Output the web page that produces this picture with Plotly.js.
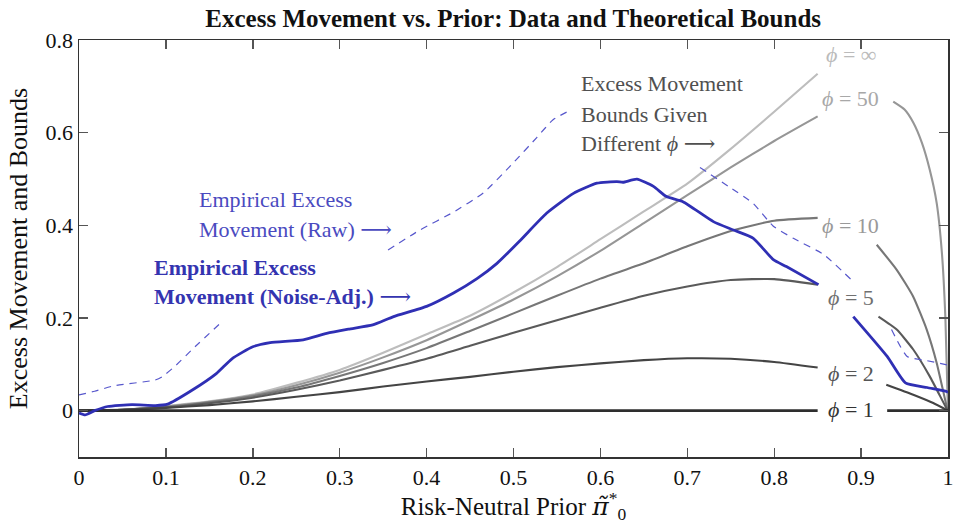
<!DOCTYPE html>
<html>
<head>
<meta charset="utf-8">
<script src="https://cdn.plot.ly/plotly-3.0.1.min.js"></script>
<style>
  html, body { margin: 0; padding: 0; background: #fff; }
  #chart { width: 953px; height: 524px; }
</style>
</head>
<body>
<div id="chart"></div>
<script>
// ---------- data ----------
const xTickVals = [0, 0.1, 0.2, 0.3, 0.4, 0.5, 0.6, 0.7, 0.8, 0.9, 1];
const xTickText = ["0", "0.1", "0.2", "0.3", "0.4", "0.5", "0.6", "0.7", "0.8", "0.9", "1"];
const yTickVals = [0, 0.2, 0.4, 0.6, 0.8];
const yTickText = ["0", "0.2", "0.4", "0.6", "0.8"];

// theoretical bounds, left part (up to the label column)
const boundX = [0, 0.05, 0.1, 0.15, 0.2, 0.25, 0.3, 0.35, 0.4, 0.45, 0.5, 0.55, 0.6, 0.65, 0.7, 0.75, 0.8, 0.85];
const boundInf = [0, 0.002, 0.01, 0.02, 0.035, 0.06, 0.088, 0.125, 0.165, 0.205, 0.255, 0.31, 0.37, 0.43, 0.49, 0.565, 0.645, 0.727];
const bound50  = [0, 0.002, 0.009, 0.019, 0.033, 0.055, 0.082, 0.115, 0.152, 0.195, 0.24, 0.29, 0.345, 0.405, 0.465, 0.525, 0.582, 0.635];
const bound10  = [0, 0.002, 0.008, 0.018, 0.031, 0.05, 0.075, 0.103, 0.135, 0.172, 0.21, 0.248, 0.285, 0.318, 0.355, 0.388, 0.41, 0.416];
const bound5   = [0, 0.002, 0.007, 0.016, 0.028, 0.045, 0.065, 0.088, 0.112, 0.14, 0.168, 0.195, 0.222, 0.248, 0.268, 0.282, 0.284, 0.272];
const bound2   = [0, 0.002, 0.006, 0.012, 0.02, 0.03, 0.04, 0.052, 0.063, 0.073, 0.084, 0.094, 0.102, 0.109, 0.113, 0.112, 0.105, 0.093];
const bound1X  = [0, 0.85, null, 0.93, 1];
const bound1   = [0, 0, null, 0, 0];

// theoretical bounds, right part (after the label column)
const right50X = [0.937, 0.95, 0.96, 0.97, 0.979, 0.987, 0.993, 0.997, 1];
const right50  = [0.667, 0.65, 0.622, 0.578, 0.52, 0.448, 0.34, 0.2, 0];
const right10X = [0.918, 0.941, 0.96, 0.9755, 0.987, 0.9985, 1];
const right10  = [0.358, 0.304, 0.246, 0.175, 0.103, 0.009, 0];
const right5X  = [0.92, 0.941, 0.96, 0.979, 0.998, 1];
const right5   = [0.203, 0.175, 0.132, 0.074, 0.006, 0];
const right2X  = [0.929, 0.96, 0.983, 1];
const right2   = [0.056, 0.0345, 0.0166, 0];

// empirical excess movement, noise-adjusted (solid)
const adjX = [0, 0.007, 0.018, 0.033, 0.061, 0.088, 0.102, 0.13, 0.158, 0.176, 0.2, 0.22, 0.258, 0.285, 0.31, 0.338, 0.362, 0.4, 0.431, 0.458, 0.481, 0.508, 0.538, 0.569, 0.596, 0.619, 0.626, 0.642, 0.661, 0.676, 0.695, 0.73, 0.753, 0.776, 0.799, 0.814, 0.851, null, 0.891, 0.93, 0.951, 0.976, 0.997, 1];
const adjY = [-0.005, -0.009, 0, 0.009, 0.013, 0.011, 0.014, 0.044, 0.08, 0.112, 0.138, 0.147, 0.153, 0.167, 0.176, 0.185, 0.203, 0.225, 0.254, 0.285, 0.318, 0.368, 0.426, 0.469, 0.491, 0.4945, 0.493, 0.4996, 0.484, 0.462, 0.451, 0.408, 0.39, 0.372, 0.326, 0.311, 0.272, null, 0.203, 0.117, 0.06, 0.05, 0.042, 0.04];

// empirical excess movement, raw (dashed)
const rawX = [0, 0.018, 0.041, 0.0875, 0.0955, 0.1105, 0.1335, 0.1646, null, 0.3556, 0.3924, 0.4304, 0.4653, 0.4998, 0.527, 0.5455, 0.565, null, 0.7146, 0.749, 0.776, 0.799, 0.822, 0.857, 0.889, null, 0.935, 0.953, 0.9757, 0.9987];
const rawY = [0.034, 0.042, 0.054, 0.066, 0.073, 0.096, 0.138, 0.192, null, 0.347, 0.39, 0.428, 0.47, 0.535, 0.59, 0.628, 0.648, null, 0.525, 0.482, 0.447, 0.398, 0.372, 0.337, 0.282, null, 0.175, 0.117, 0.108, 0.099];

// ---------- traces ----------
const gap = (a, b) => a.concat([null], b);
function bound(x, y, color, w) {
  return { x: x, y: y, type: "scatter", mode: "lines", connectgaps: false,
           line: { color: color, width: w, shape: "spline", smoothing: 0.5 },
           hoverinfo: "skip", showlegend: false };
}
const traces = [
  bound(boundX, boundInf, "#bdbdbd", 2.1),
  bound(gap(boundX, right50X), gap(bound50, right50), "#969696", 2.1),
  bound(gap(boundX, right10X), gap(bound10, right10), "#777777", 2.1),
  bound(gap(boundX, right5X), gap(bound5, right5), "#5a5a5a", 2.1),
  bound(gap(boundX, right2X), gap(bound2, right2), "#444444", 2.1),
  { x: bound1X, y: bound1, type: "scatter", mode: "lines",
    line: { color: "#2e2e2e", width: 2.6 }, hoverinfo: "skip", showlegend: false },
  { x: rawX, y: rawY, type: "scatter", mode: "lines",
    line: { color: "#5757cc", width: 1.2, dash: "7px,6px", shape: "spline", smoothing: 0.5 },
    hoverinfo: "skip", showlegend: false },
  { x: adjX, y: adjY, type: "scatter", mode: "lines",
    line: { color: "#2f2fb4", width: 2.8, shape: "spline", smoothing: 0.5 },
    hoverinfo: "skip", showlegend: false }
];

// ---------- layout ----------
const FONT = "'Liberation Serif', 'DejaVu Serif', serif";
const PHI = "<i>ϕ</i>";
function note(text, x, y, color, anchor) {
  return { text: text, x: x, y: y, xref: "x", yref: "y", showarrow: false,
           xanchor: anchor || "left", yanchor: "middle",
           font: { family: FONT, size: 22, color: color } };
}
const phiAnn = [
  [PHI + " = ∞", 0.768, "#bbbbbb"],
  [PHI + " = 50", 0.673, "#a8a8a8"],
  [PHI + " = 10", 0.399, "#999999"],
  [PHI + " = 5", 0.245, "#707070"],
  [PHI + " = 2", 0.081, "#555555"],
  [PHI + " = 1", 0.002, "#333333"]
].map(a => note(a[0], 0.888, a[1], a[2], "center"));

const annotations = [
  note("Empirical Excess", 0.1358, 0.455, "#4a4ac0"),
  note("Movement (Raw) ⟶", 0.1358, 0.390, "#4a4ac0"),
  note("<b>Empirical Excess</b>", 0.0837, 0.308, "#3434b0"),
  note("<b>Movement (Noise-Adj.)</b> ⟶", 0.0837, 0.246, "#3434b0"),
  note("Excess Movement", 0.575, 0.707, "#505050"),
  note("Bounds Given", 0.575, 0.640, "#505050"),
  note("Different " + PHI + " ⟶", 0.575, 0.576, "#505050")
].concat(phiAnn);

const axisCommon = {
  showgrid: false, zeroline: false, showline: true, mirror: "ticks",
  linecolor: "#333333", linewidth: 1.5,
  ticks: "inside", ticklen: 9, tickwidth: 1.4, tickcolor: "#555555",
  tickfont: { family: FONT, size: 22, color: "#111111" },
  ticklabeloverflow: "allow",
  fixedrange: true
};

const layout = {
  width: 953, height: 524,
  margin: { l: 79, r: 5, t: 40, b: 67 },
  paper_bgcolor: "#ffffff", plot_bgcolor: "#ffffff",
  font: { family: FONT, color: "#111111" },
  title: { text: "<b>Excess Movement vs. Prior: Data and Theoretical Bounds</b>",
           x: 0.5385, xanchor: "center", y: 0.965, yanchor: "middle",
           font: { family: FONT, size: 25, color: "#111111" } },
  xaxis: Object.assign({}, axisCommon, {
    range: [0, 1], tickvals: xTickVals, ticktext: xTickText,
    title: { text: "Risk-Neutral Prior <span style=\"font-family:'DejaVu Serif'\"><i>π̃</i></span><sup>*</sup><sub>0</sub>", standoff: 12,
             font: { family: FONT, size: 25, color: "#111111" } }
  }),
  yaxis: Object.assign({}, axisCommon, {
    range: [-0.1, 0.8], tickvals: yTickVals, ticktext: yTickText,
    title: { text: "Excess Movement and Bounds", standoff: 10,
             font: { family: FONT, size: 26, color: "#111111" } }
  }),
  annotations: annotations,
  showlegend: false
};

Plotly.newPlot("chart", traces, layout, { displayModeBar: false, staticPlot: true });
</script>
</body>
</html>
